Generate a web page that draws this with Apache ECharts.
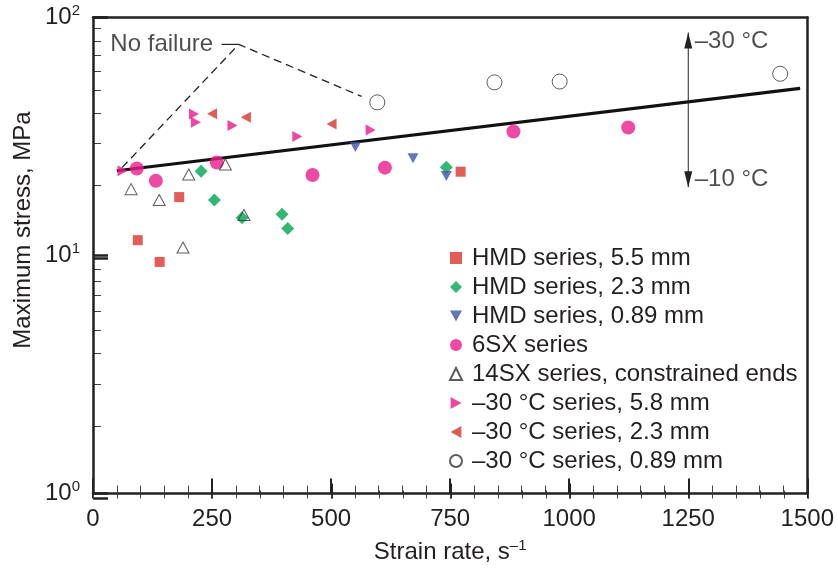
<!DOCTYPE html>
<html>
<head>
<meta charset="utf-8">
<script src="https://cdn.jsdelivr.net/npm/echarts@6/dist/echarts.min.js"></script>
<style>
html,body{margin:0;padding:0;background:#fff;}
#c{width:837px;height:569px;background:#fff;}
</style>
</head>
<body>
<div id="c"></div>
<script>
// ---- data (strain rate s^-1, maximum stress MPa) ----
var seriesNames = [
  'HMD series, 5.5 mm',
  'HMD series, 2.3 mm',
  'HMD series, 0.89 mm',
  '6SX series',
  '14SX series, constrained ends',
  '\u201330 \u00b0C series, 5.8 mm',
  '\u201330 \u00b0C series, 2.3 mm',
  '\u201330 \u00b0C series, 0.89 mm'
];
var hmd55 = [[94,11.6],[140,9.4],[181,17.6],[772,22.5]];
var hmd23 = [[227,22.6],[255,17.1],[313,14.4],[397,14.9],[409,13.0],[742,23.5]];
var hmd089 = [[551,28.6],[672,25.6],[742,21.6]];
var sx6 = [[92,23.2],[132,20.6],[260,24.6],[461,21.8],[613,23.4],[883,33.2],[1124,34.5]];
var sx14 = [[80,19.0],[139,17.1],[201,21.9],[278,24.1],[317,14.8],[189,10.8]];
var m30_58 = [[62,22.7],[212,39.3],[216,36.3],[293,35.2],[429,31.6],[583,33.7]];
var m30_23 = [[250,39.4],[321,38.1],[501,35.7]];
var m30_089 = [[597,44.0],[843,53.4],[980,53.8],[1443,58.0]];

var trendLine = [[50,22.7],[1485,50.4]];
var noFailureLine = [[61,23.4],[306,77.1],[564,46.6]];
var noFailureLeader = [[270,77.1],[306,77.1]];
var noFailureText = 'No failure';
var arrowX = 1250;
var arrowY = [19.36, 86.5];
var arrowTexts = ['\u201330 \u00b0C', '\u201310 \u00b0C'];
var arrowTextY = [79.1, 20.9];

var xTicks = {min:0, max:1500, interval:250, minor:50};
var yMinor = [2,3,4,5,6,7,8,9,20,30,40,50,60,70,80,90];

var FONT = "'Liberation Sans', Arial, Helvetica, sans-serif";
var TXT = '#231f20';
var FS = 24;

var chart = echarts.init(document.getElementById('c'), null, {renderer:'canvas'});

function scatter(name, data, symbol, size, color, hollow){
  return {
    name: name, type: 'scatter', data: data, symbol: symbol, symbolSize: size,
    itemStyle: hollow ? {color:'rgba(255,255,255,0)', borderColor:'#333', borderWidth:1} : {color: color},
    z: 5
  };
}
function hiddenValueAxis(extra){
  return Object.assign({axisLine:{show:false}, axisTick:{show:false}, axisLabel:{show:false}, splitLine:{show:false}}, extra);
}
var PL = 93, PR = 29, PT = 17.5, PB = 70.5;

var option = {
  animation: false,
  grid: [
    {left: PL, right: PR, top: PT, bottom: PB},
    {left: PL, right: PR, bottom: PB, height: 15},   // x major tick strip
    {left: PL, right: PR, bottom: PB, height: 8},    // x minor tick strip
    {left: PL, width: 15, top: PT, bottom: PB},      // y major tick strip
    {left: PL, width: 8, top: PT, bottom: PB}        // y minor tick strip
  ],
  legend: {
    data: seriesNames,
    orient: 'vertical',
    left: 449, top: 246,
    itemGap: 5, itemWidth: 12, itemHeight: 12,
    padding: 0,
    textStyle: {fontSize: FS, color: TXT, fontFamily: FONT, padding:[0,0,0,5]},
    selectedMode: false
  },
  xAxis: [{
    gridIndex: 0, type: 'value', min: xTicks.min, max: xTicks.max, interval: xTicks.interval, position: 'bottom',
    name: 'Strain rate, s{s|\u20131}', nameLocation: 'middle', nameGap: 45,
    nameTextStyle: {fontSize: FS, color: TXT, fontFamily: FONT,
      rich: {s: {fontSize: 15, color: TXT, fontFamily: FONT, padding: [0,0,12,0]}}},
    axisLine: {show: true, onZero: false, lineStyle: {color: '#222', width: 2.5}},
    axisTick: {show: true, inside: true, length: 15, lineStyle: {color: '#222', width: 2}},
    minorTick: {show: true, splitNumber: 5, length: 8, lineStyle: {color: '#444', width: 1}},
    axisLabel: {show: true, fontSize: FS, color: TXT, fontFamily: FONT, margin: 14, formatter: function(v){ return String(v); }},
    splitLine: {show: false}
  }, {
    gridIndex: 0, type: 'value', min: xTicks.min, max: xTicks.max, position: 'top',
    axisLine: {show: true, onZero: false, lineStyle: {color: '#222', width: 2.5}},
    axisTick: {show: false}, axisLabel: {show: false}, splitLine: {show: false}
  },
  hiddenValueAxis({gridIndex: 1, type: 'value', min: xTicks.min, max: xTicks.max, interval: xTicks.interval,
    splitLine: {show: true, lineStyle: {color: '#222', width: 2}}}),
  hiddenValueAxis({gridIndex: 2, type: 'value', min: xTicks.min, max: xTicks.max, interval: xTicks.minor,
    splitLine: {show: true, lineStyle: {color: '#444', width: 1}}}),
  hiddenValueAxis({gridIndex: 3, type: 'value', min: 0, max: 1}),
  hiddenValueAxis({gridIndex: 4, type: 'value', min: 0, max: 1})
  ],
  yAxis: [{
    gridIndex: 0, type: 'log', logBase: 10, min: 1, max: 100, position: 'left',
    axisLine: {show: true, onZero: false, lineStyle: {color: '#222', width: 2.5}},
    axisTick: {show: true, inside: true, length: 15, lineStyle: {color: '#222', width: 2.5}},
    axisLabel: {
      show: true, margin: 13, color: TXT, fontFamily: FONT,
      formatter: function(v){ return '{b|10}{s|' + Math.round(Math.log10(v)) + '}'; },
      rich: {
        b: {fontSize: FS, color: TXT, fontFamily: FONT},
        s: {fontSize: 15, color: TXT, fontFamily: FONT, padding: [0,0,14,0]}
      }
    },
    splitLine: {show: false}
  }, {
    gridIndex: 0, type: 'log', logBase: 10, min: 1, max: 100, position: 'right',
    axisLine: {show: true, onZero: false, lineStyle: {color: '#222', width: 2.5}},
    axisTick: {show: false}, axisLabel: {show: false}, splitLine: {show: false}
  },
  hiddenValueAxis({gridIndex: 1, type: 'value', min: 0, max: 1}),
  hiddenValueAxis({gridIndex: 2, type: 'value', min: 0, max: 1}),
  hiddenValueAxis({gridIndex: 3, type: 'log', logBase: 10, min: 1, max: 100,
    splitLine: {show: true, lineStyle: {color: '#222', width: 2.5}}}),
  hiddenValueAxis({gridIndex: 4, type: 'log', logBase: 10, min: 1, max: 100,
    axisTick: {show: false, customValues: yMinor},
    splitLine: {show: true, lineStyle: {color: '#444', width: 1}}})
  ],
  graphic: [{
    type: 'text', x: 23, y: 230, rotation: Math.PI/2,
    style: {text: 'Maximum stress, MPa', font: FS + "px 'Liberation Sans', Arial, sans-serif", fill: TXT, textAlign: 'center', textVerticalAlign: 'middle'}
  }],
  series: [
    {name: 'trend', type: 'line', data: trendLine, symbol: 'none', lineStyle: {color: '#111', width: 3.2}, z: 3, silent: true},
    {name: 'nofail', type: 'line', data: noFailureLine, symbol: 'none', lineStyle: {color: '#222', width: 1.3, type: [8,5]}, z: 3, silent: true},
    {name: 'leader', type: 'line', data: noFailureLeader, symbol: 'none', lineStyle: {color: '#222', width: 1.2}, z: 3, silent: true},
    {name: 'nofailText', type: 'scatter', data: [{value: noFailureLeader[0], name: noFailureText}], symbolSize: 1, silent: true,
      itemStyle: {color: 'rgba(0,0,0,0)'},
      label: {show: true, position: 'left', distance: 8, formatter: '{b}', fontSize: FS, color: TXT, fontFamily: FONT}},
    {name: 'arrow', type: 'line', silent: true, symbol: 'triangle', showSymbol: true, showAllSymbol: true,
      itemStyle: {color: '#222', borderWidth: 0},
      lineStyle: {color: '#222', width: 1},
      data: [
        {value: [arrowX, arrowY[0]], symbol: 'path://M0,0 L10,0 L5,20 Z', symbolSize: [8,16], symbolOffset: [0,-8]},
        {value: [arrowX, arrowY[1]], symbol: 'path://M5,0 L10,20 L0,20 Z', symbolSize: [8,16], symbolOffset: [0,8]}
      ]},
    {name: 'arrowText', type: 'scatter', symbolSize: 1, silent: true, itemStyle: {color: 'rgba(0,0,0,0)'},
      data: arrowTexts.map(function(t, i){ return {value: [arrowX, arrowTextY[i]], name: t}; }),
      label: {show: true, position: 'right', distance: 6, formatter: '{b}', fontSize: FS, color: TXT, fontFamily: FONT}},
    scatter(seriesNames[0], hmd55, 'rect', 10, '#d9352b'),
    scatter(seriesNames[1], hmd23, 'diamond', 13, '#00a651'),
    scatter(seriesNames[2], hmd089, 'path://M0,0 L10,0 L5,9 Z', [11,10], '#3a55a6'),
    scatter(seriesNames[3], sx6, 'circle', 14, '#ea1b8c'),
    scatter(seriesNames[4], sx14, 'triangle', [12,11], null, true),
    scatter(seriesNames[5], m30_58, 'path://M0,0 L9,5 L0,10 Z', [10,11], '#e8198b'),
    scatter(seriesNames[6], m30_23, 'path://M9,0 L0,5 L9,10 Z', [10,11], '#d4332b'),
    scatter(seriesNames[7], m30_089, 'circle', 15, null, true)
  ]
};
chart.setOption(option);
</script>
</body>
</html>
